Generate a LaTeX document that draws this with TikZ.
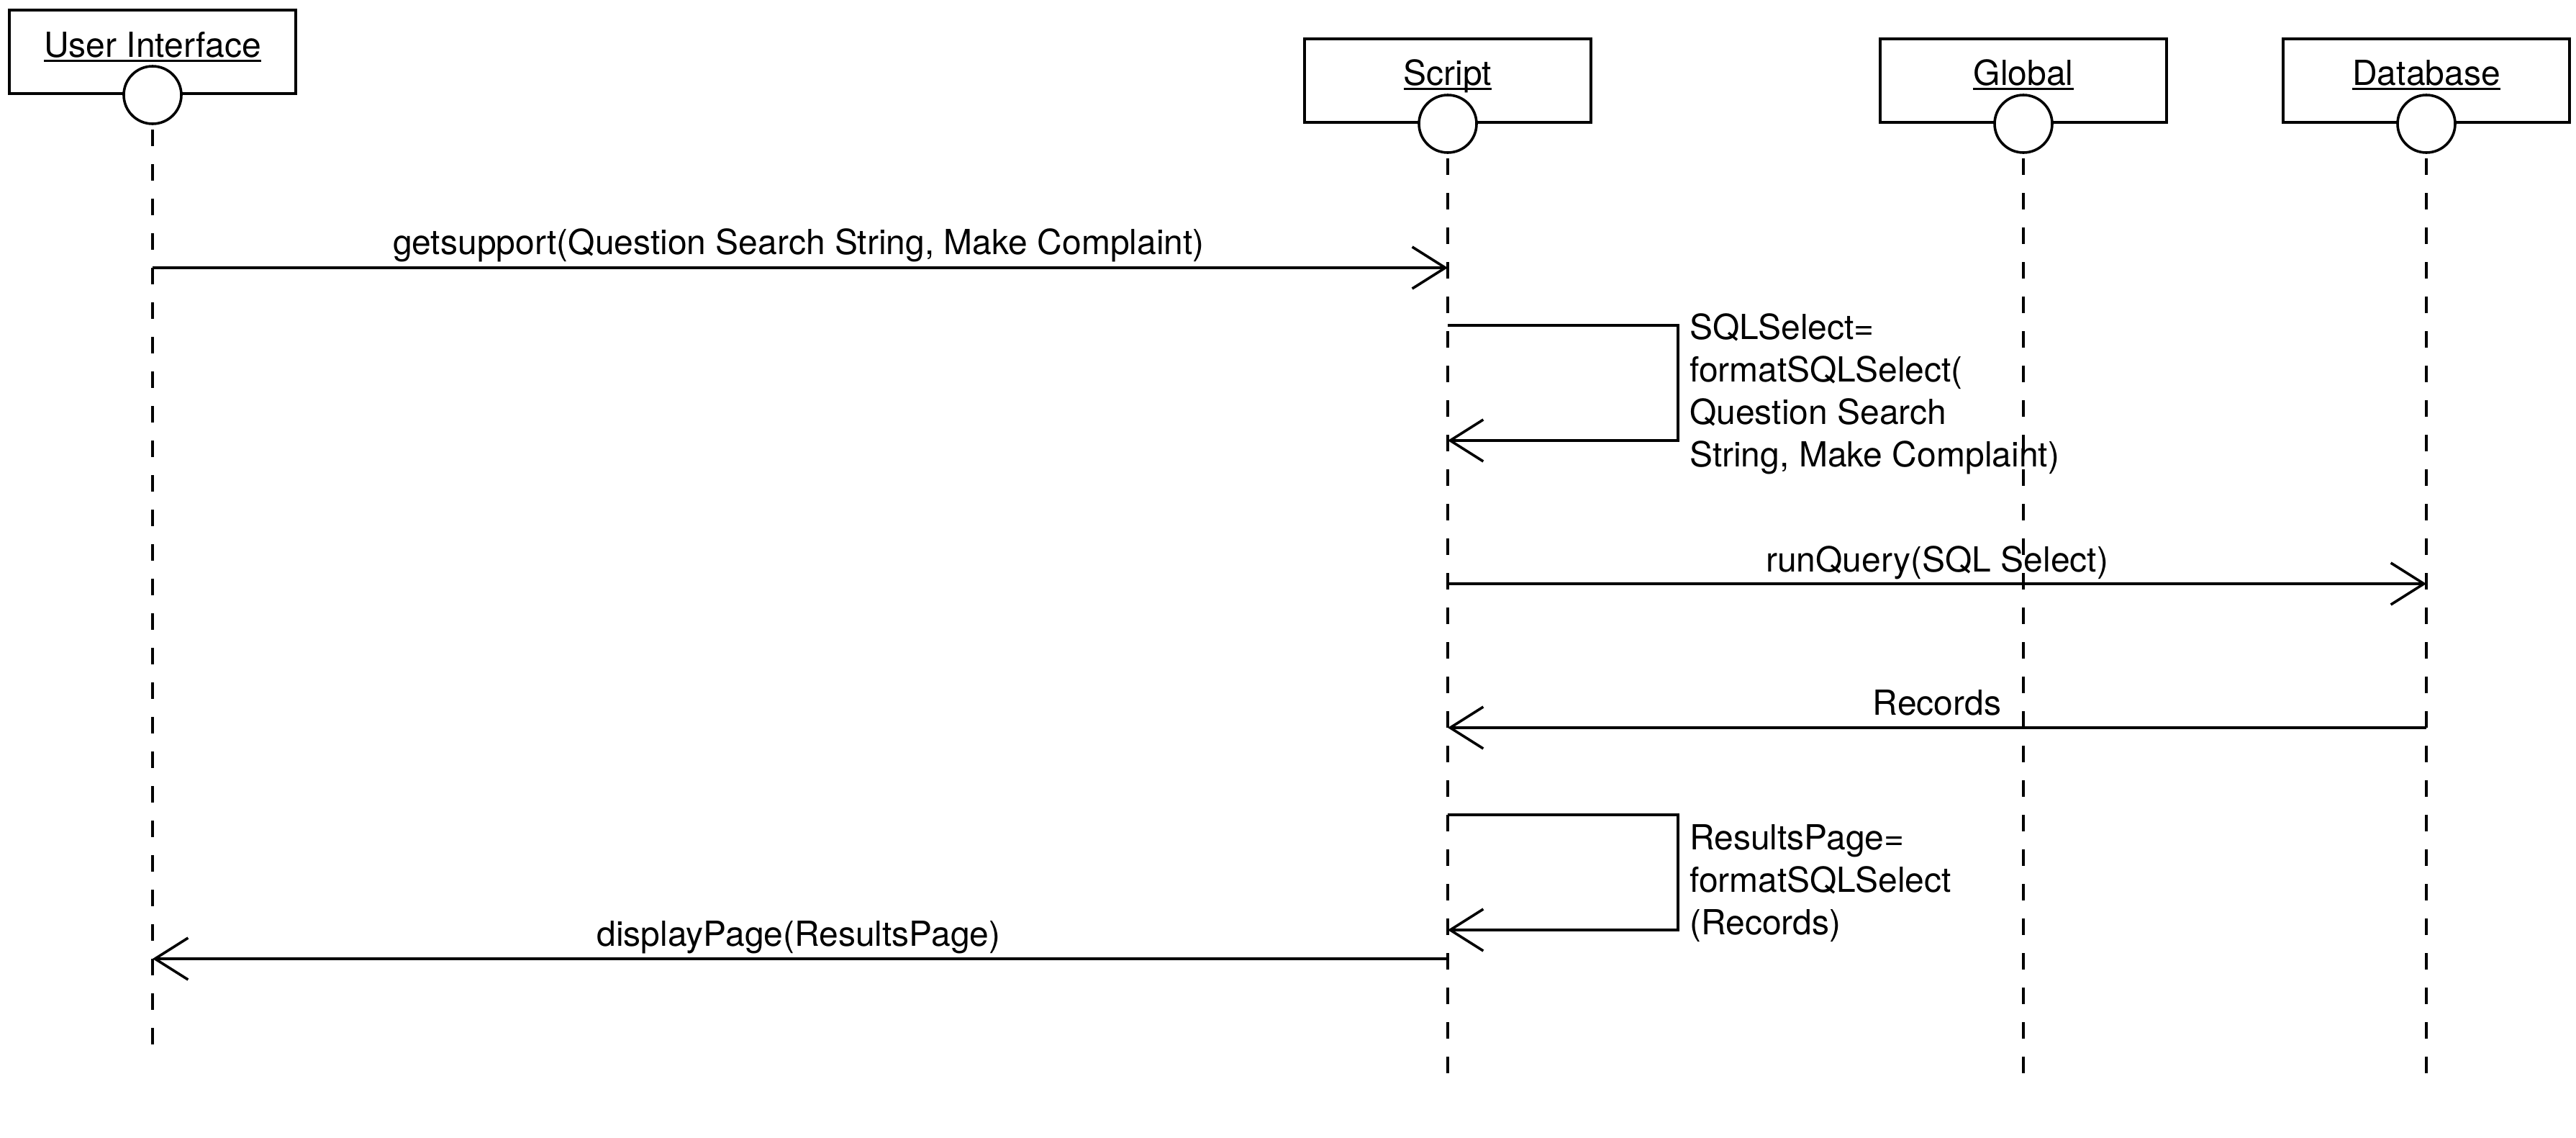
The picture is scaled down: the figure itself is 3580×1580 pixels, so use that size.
\documentclass[tikz,border=0pt]{standalone}
\usepackage{fontspec}
\setmainfont{TeX Gyre Heros}
\usetikzlibrary{arrows.meta}
\begin{document}
\begin{tikzpicture}[x=1pt,y=-1pt,
  every node/.style={font=\fontsize{48}{59}\selectfont, inner sep=0pt},
  actor/.style={draw, line width=3.6pt, minimum width=398pt, minimum height=116pt, fill=white},
  head/.style={circle, draw, fill=white, line width=3.6pt, minimum size=80pt},
  life/.style={line width=3.6pt, dash pattern=on 23pt off 25pt},
  msg/.style={line width=3.6pt, line join=miter, -{Straight Barb[length=46pt,width=58pt]}},
  lbl/.style={anchor=base},
  uline/.style={line width=3pt},
  note/.style={anchor=north west, align=left}
]
\useasboundingbox (0,0) rectangle (3580,1580);

% actor boxes
\node[actor] (uibox) at (212,72) {};
\node[actor] (scbox) at (2012,112) {};
\node[actor] (glbox) at (2812,112) {};
\node[actor] (dbbox) at (3372,112) {};

% actor names
\node[lbl] (uitxt) at (212,79) {User Interface};
\node[lbl] (sctxt) at (2012,118) {Script};
\node[lbl] (gltxt) at (2812,118) {Global};
\node[lbl] (dbtxt) at (3372,118) {Database};
\foreach \t in {uitxt,sctxt,gltxt,dbtxt}
  \draw[uline] ([yshift=-5pt]\t.base west) -- ([yshift=-5pt]\t.base east);

% lifelines
\coordinate (uitop) at (212,180);   \coordinate (uiend) at (212,1452);
\coordinate (sctop) at (2012,220);  \coordinate (scend) at (2012,1492);
\coordinate (gltop) at (2812,220);  \coordinate (glend) at (2812,1492);
\coordinate (dbtop) at (3372,220);  \coordinate (dbend) at (3372,1492);
\draw[life] (uitop) -- (uiend);
\draw[life] (sctop) -- (scend);
\draw[life] (gltop) -- (glend);
\draw[life] (dbtop) -- (dbend);

% heads
\node[head] (uihead) at (212,132) {};
\node[head] (schead) at (2012,172) {};
\node[head] (glhead) at (2812,172) {};
\node[head] (dbhead) at (3372,172) {};

% message 1
\coordinate (m1a) at (212,372); \coordinate (m1b) at (2012,372);
\draw[msg] (m1a) -- (m1b);
\node[lbl] (l1) at (1110,353) {getsupport(Question Search String, Make Complaint)};

% self message 1
\coordinate (s1a) at (2012,452); \coordinate (s1b) at (2332,452);
\coordinate (s1c) at (2332,612); \coordinate (s1d) at (2012,612);
\draw[msg] (s1a) -- (s1b) -- (s1c) -- (s1d);
\node[note] (s1t) at (2348,435) {SQLSelect=\\formatSQLSelect(\\Question Search\\String, Make Complaint)};

% runQuery
\coordinate (m2a) at (2012,811); \coordinate (m2b) at (3372,811);
\draw[msg] (m2a) -- (m2b);
\node[lbl] (l2) at (2692,794) {runQuery(SQL Select)};

% Records
\coordinate (m3a) at (3372,1011); \coordinate (m3b) at (2012,1011);
\draw[msg] (m3a) -- (m3b);
\node[lbl] (l3) at (2692,993) {Records};

% self message 2
\coordinate (s2a) at (2012,1132); \coordinate (s2b) at (2332,1132);
\coordinate (s2c) at (2332,1292); \coordinate (s2d) at (2012,1292);
\draw[msg] (s2a) -- (s2b) -- (s2c) -- (s2d);
\node[note] (s2t) at (2348,1145) {ResultsPage=\\formatSQLSelect\\(Records)};

% displayPage
\coordinate (m4a) at (2012,1332); \coordinate (m4b) at (212,1332);
\draw[msg] (m4a) -- (m4b);
\node[lbl] (l4) at (1110,1314) {displayPage(ResultsPage)};
\end{tikzpicture}
\end{document}
